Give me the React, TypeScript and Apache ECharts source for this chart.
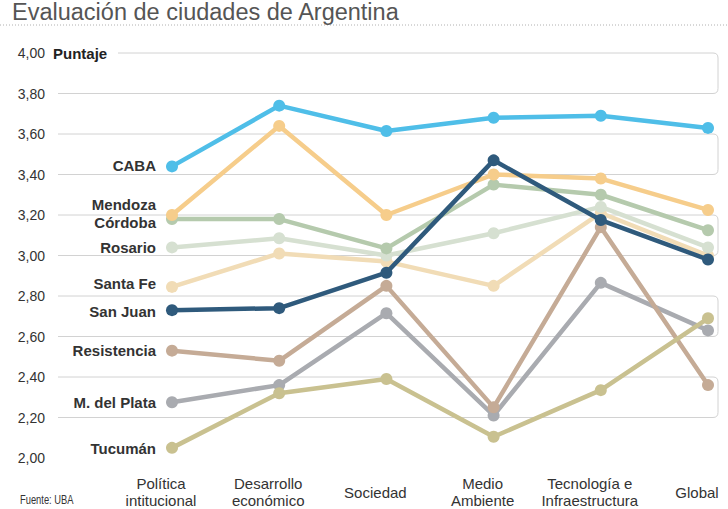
import React, { useEffect, useRef } from "react";
import * as echarts from "echarts";

const categories = [
  "Política\nintitucional",
  "Desarrollo\neconómico",
  "Sociedad",
  "Medio\nAmbiente",
  "Tecnología e\nInfraestructura",
  "Global",
];

const cities = ["Santa Fe", "Rosario", "Córdoba", "Mendoza", "M. del Plata", "Resistencia", "Tucumán", "CABA", "San Juan"];

const santaFe = [2.845, 3.01, 2.97, 2.85, 3.21, 3.0];
const rosario = [3.04, 3.085, 3.0, 3.11, 3.24, 3.04];
const cordoba = [3.18, 3.18, 3.035, 3.35, 3.3, 3.125];
const mendoza = [3.2, 3.64, 3.2, 3.4, 3.38, 3.225];
const mdelPlata = [2.275, 2.36, 2.715, 2.21, 2.865, 2.63];
const resistencia = [2.53, 2.48, 2.85, 2.25, 3.14, 2.36];
const tucuman = [2.05, 2.32, 2.39, 2.105, 2.335, 2.69];
const caba = [3.44, 3.74, 3.615, 3.68, 3.69, 3.63];
const sanJuan = [2.73, 2.74, 2.915, 3.47, 3.175, 2.98];

const seriesValues = [santaFe, rosario, cordoba, mendoza, mdelPlata, resistencia, tucuman, caba, sanJuan];
const colors = ["#f1dcb6", "#d6e0d1", "#b5caad", "#f6cd8b", "#a9abb0", "#c5ab96", "#c9c190", "#4fbee8", "#2f5a7c"];
const labelOffsets = [[0, -3], [0, 0], [0, 3], [0, -11], [0, 0], [0, 0], [0, 1], [0, -1], [0, 1]];

const bands = [[4.0, 3.8], [3.6, 3.4], [3.2, 3.0], [2.8, 2.6], [2.4, 2.2]];
const baseLine = [2.0];

const FONT = "'Liberation Sans', Arial, sans-serif";

export default function App() {
  const ref = useRef<HTMLDivElement>(null);
  useEffect(() => {
    if (!ref.current) return;
    const chart = echarts.init(ref.current, null, { renderer: "svg" });

    const lineSeries = seriesValues.map((vals, i) => ({
      type: "line",
      name: cities[i],
      data: vals.map((v, j) =>
        j === 0
          ? {
              value: v,
              label: {
                show: true,
                position: "left",
                distance: 10,
                offset: labelOffsets[i],
                formatter: cities[i],
                fontFamily: FONT,
                fontSize: 15,
                fontWeight: "bold",
                color: "#333",
              },
            }
          : v
      ),
      symbol: "circle",
      symbolSize: 12,
      lineStyle: { color: colors[i], width: 4.5 },
      itemStyle: { color: colors[i] },
      z: 3 + i,
      silent: true,
    }));

    const gridStroke = "#d2d2d2";

    chart.setOption({
      animation: false,
      title: {
        text: "Evaluación de ciudades de Argentina",
        left: 12,
        top: 0,
        padding: 0,
        textStyle: { fontFamily: FONT, fontSize: 23.5, fontWeight: "normal", color: "#555" },
      },
      graphic: [
        {
          type: "line",
          shape: { x1: 0, y1: 25, x2: 728, y2: 25 },
          style: { stroke: "#b0b0b0", lineWidth: 1, lineDash: [1, 2] },
        },
        {
          type: "text",
          x: 53,
          y: 53,
          style: {
            text: "Puntaje",
            font: `bold 15px ${FONT}`,
            fill: "#222",
            textVerticalAlign: "middle",
          },
        },
        {
          type: "text",
          x: 20,
          y: 500,
          scaleX: 0.78,
          style: {
            text: "Fuente: UBA",
            font: `12px ${FONT}`,
            fill: "#333",
            textVerticalAlign: "middle",
          },
        },
      ],
      grid: { left: 172, right: 20, top: 53, bottom: 51, containLabel: false, outerBoundsMode: "none" },
      xAxis: {
        type: "category",
        data: categories,
        boundaryGap: false,
        axisLine: { show: false },
        axisTick: { show: false },
        splitLine: { show: false },
        axisLabel: {
          interval: 0,
          margin: 34,
          verticalAlign: "middle",
          fontFamily: FONT,
          fontSize: 15,
          lineHeight: 17,
          color: "#333",
          padding: [0, 22, 0, 0],
          hideOverlap: false,
        },
      },
      yAxis: {
        type: "value",
        min: 2,
        max: 4,
        interval: 0.2,
        axisLine: { show: false },
        axisTick: { show: false },
        splitLine: { show: false },
        axisLabel: {
          margin: 127,
          fontFamily: FONT,
          fontSize: 14,
          color: "#333",
          formatter: (v: number) => v.toFixed(2).replace(".", ","),
        },
      },
      series: [
        {
          type: "custom",
          silent: true,
          z: 1,
          data: bands,
          renderItem: (params: any, api: any) => {
            const cs = params.coordSys;
            const top = api.value(0);
            const bot = api.value(1);
            const yT = api.coord([0, top])[1];
            const yB = api.coord([0, bot])[1];
            const x2 = cs.x + cs.width + 10;
            const xT = top >= 4 ? cs.x - 54 : cs.x - 114;
            const xB = cs.x - 114;
            const r = 5;
            const d = `M ${xT} ${yT} L ${x2 - r} ${yT} Q ${x2} ${yT} ${x2} ${yT + r} L ${x2} ${yB - r} Q ${x2} ${yB} ${x2 - r} ${yB} L ${xB} ${yB}`;
            return {
              type: "path",
              shape: { pathData: d },
              style: { fill: "none", stroke: gridStroke, lineWidth: 1 },
            };
          },
        },
        {
          type: "custom",
          silent: true,
          z: 1,
          data: baseLine,
          renderItem: (params: any, api: any) => {
            const cs = params.coordSys;
            const y = api.coord([0, api.value(0)])[1];
            return {
              type: "line",
              shape: { x1: cs.x - 114, y1: y, x2: cs.x + cs.width + 10, y2: y },
              style: { stroke: gridStroke, lineWidth: 1 },
            };
          },
        },
        ...lineSeries,
      ],
    });
    return () => chart.dispose();
  }, []);
  return (
    <div
      ref={ref}
      style={{ position: "fixed", left: 0, top: 0, width: 728, height: 509, background: "#fff" }}
    />
  );
}
